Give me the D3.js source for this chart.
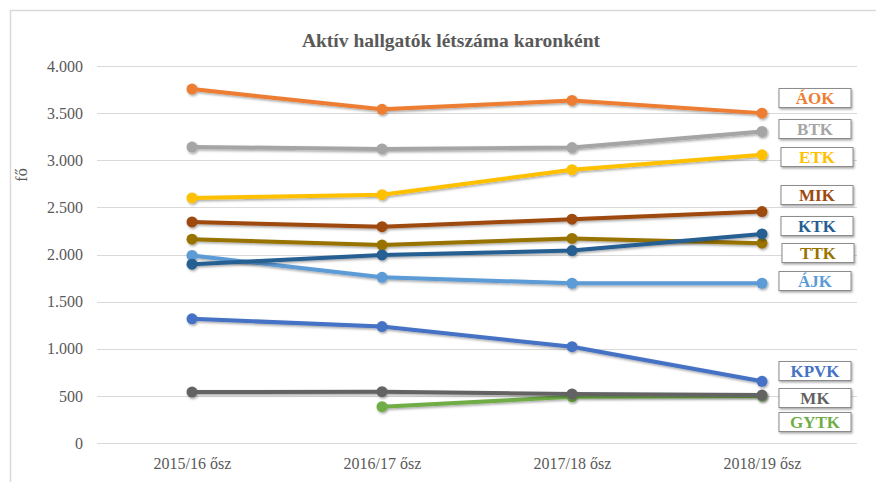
<!DOCTYPE html>
<meta charset="utf-8">
<style>
body {
  margin: 0;
  background: #fff;
}
svg text {
  font-family: "Liberation Serif", "Times New Roman", serif;
}
.grid line {
  stroke: #d9d9d9;
}
.axis path, .axis line {
  display: none;
}
.axis text {
  fill: #595959;
  font-size: 16px;
}
</style>
<body>
<svg width="876" height="482"></svg>
<script src="https://cdn.jsdelivr.net/npm/d3@7"></script>
<script>
// data
var years = ["2015/16 ősz", "2016/17 ősz", "2017/18 ősz", "2018/19 ősz"];
var yTicks = [0, 500, 1000, 1500, 2000, 2500, 3000, 3500, 4000];
var faculties = ["GYTK", "MK", "KPVK", "ÁJK", "TTK", "KTK", "MIK", "ETK", "BTK", "ÁOK"];
var aok  = [3755, 3540, 3635, 3500];
var btk  = [3140, 3120, 3135, 3305];
var etk  = [2600, 2635, 2900, 3058];
var mik  = [2345, 2295, 2375, 2455];
var ttk  = [2162, 2100, 2170, 2120];
var ktk  = [1897, 1995, 2042, 2218];
var ajk  = [1990, 1758, 1695, 1695];
var kpvk = [1318, 1235, 1022, 655];
var mk   = [540, 545, 520, 508];
var gytk = [null, 385, 490, 498];

var seriesValues = {
  "ÁOK": aok, "BTK": btk, "ETK": etk, "MIK": mik, "TTK": ttk,
  "KTK": ktk, "ÁJK": ajk, "KPVK": kpvk, "MK": mk, "GYTK": gytk
};
var colors = {
  "ÁOK": "#ED7D31", "BTK": "#A5A5A5", "ETK": "#FFC000", "MIK": "#9E480E",
  "KTK": "#255E91", "TTK": "#997300", "ÁJK": "#5B9BD5", "KPVK": "#4472C4",
  "MK": "#636363", "GYTK": "#70AD47"
};
// label box centres (pixels), layout only
var labelY = {
  "ÁOK": 98, "BTK": 129, "ETK": 157, "MIK": 195, "KTK": 226, "TTK": 253,
  "ÁJK": 281, "KPVK": 371, "MK": 398, "GYTK": 422
};
var labelX = {
  "ÁOK": 815, "BTK": 815, "ETK": 817, "MIK": 817, "KTK": 817, "TTK": 818,
  "ÁJK": 815, "KPVK": 815, "MK": 815, "GYTK": 815
};

var svg = d3.select("svg");

var defs = svg.append("defs");
var f = defs.append("filter").attr("id", "shadow")
    .attr("x", "-20%").attr("y", "-50%").attr("width", "140%").attr("height", "200%");
f.append("feDropShadow").attr("dx", 1).attr("dy", 1.5).attr("stdDeviation", 1)
    .attr("flood-color", "#000").attr("flood-opacity", 0.35);

// chart frame
svg.append("rect")
    .attr("x", 10.5).attr("y", 10.5)
    .attr("width", 900).attr("height", 500)
    .attr("fill", "none").attr("stroke", "#d9d9d9").attr("stroke-width", 1.5);

var x = d3.scalePoint().domain(years).range([192, 762]);
var y = d3.scaleLinear().domain([0, 4000]).range([443, 66]);

// gridlines
svg.append("g").attr("class", "grid")
  .selectAll("line")
  .data(yTicks)
  .enter().append("line")
    .attr("x1", 97).attr("x2", 857)
    .attr("y1", function(d) { return Math.round(y(d)) + 0.5; })
    .attr("y2", function(d) { return Math.round(y(d)) + 0.5; });

var fmt = function(d) { return d3.format(",")(d).replace(/,/g, "."); };

svg.append("g")
    .attr("class", "axis")
    .attr("transform", "translate(91,0)")
    .call(d3.axisLeft(y).tickValues(yTicks).tickFormat(fmt).tickSize(0).tickPadding(8));

svg.append("g")
    .attr("class", "axis")
    .attr("transform", "translate(0,453)")
    .call(d3.axisBottom(x).tickSize(0).tickPadding(5));

svg.append("text")
    .attr("transform", "translate(27,175) rotate(-90)")
    .attr("text-anchor", "middle")
    .style("font-size", "16px")
    .style("fill", "#595959")
    .text("fő");

svg.append("text")
    .attr("x", 451).attr("y", 47)
    .attr("text-anchor", "middle")
    .style("font-size", "19.5px")
    .style("font-weight", "bold")
    .style("fill", "#595959")
    .text("Aktív hallgatók létszáma karonként");

var line = d3.line()
    .defined(function(d) { return d != null; })
    .x(function(d, i) { return x(years[i]); })
    .y(function(d) { return y(d); });

var series = svg.append("g").selectAll(".series")
  .data(faculties)
  .enter().append("g")
    .attr("class", "series")
    .attr("filter", "url(#shadow)");

series.append("path")
    .attr("fill", "none")
    .attr("stroke", function(k) { return colors[k]; })
    .attr("stroke-width", 4)
    .attr("stroke-linejoin", "round")
    .attr("d", function(k) { return line(seriesValues[k]); });

series.selectAll("circle")
  .data(function(k) {
    return seriesValues[k].map(function(v, i) { return {k: k, v: v, i: i}; })
      .filter(function(d) { return d.v != null; });
  })
  .enter().append("circle")
    .attr("cx", function(d) { return x(years[d.i]); })
    .attr("cy", function(d) { return y(d.v); })
    .attr("r", 5.5)
    .attr("fill", function(d) { return colors[d.k]; });

// labels
var labels = svg.append("g").selectAll(".lab")
  .data(faculties)
  .enter().append("g")
    .attr("class", "lab")
    .attr("transform", function(k) { return "translate(" + labelX[k] + "," + labelY[k] + ")"; });

labels.append("rect")
    .attr("x", -36).attr("y", -9.5)
    .attr("width", 72).attr("height", 19)
    .attr("fill", "#fff")
    .attr("stroke", "#8c8c8c")
    .attr("stroke-width", 1)
    .attr("filter", "url(#shadow)");

labels.append("text")
    .attr("text-anchor", "middle")
    .attr("dy", "0.35em")
    .style("font-size", "17px")
    .style("font-weight", "bold")
    .style("fill", function(k) { return colors[k]; })
    .text(function(k) { return k; });
</script>
</body>
